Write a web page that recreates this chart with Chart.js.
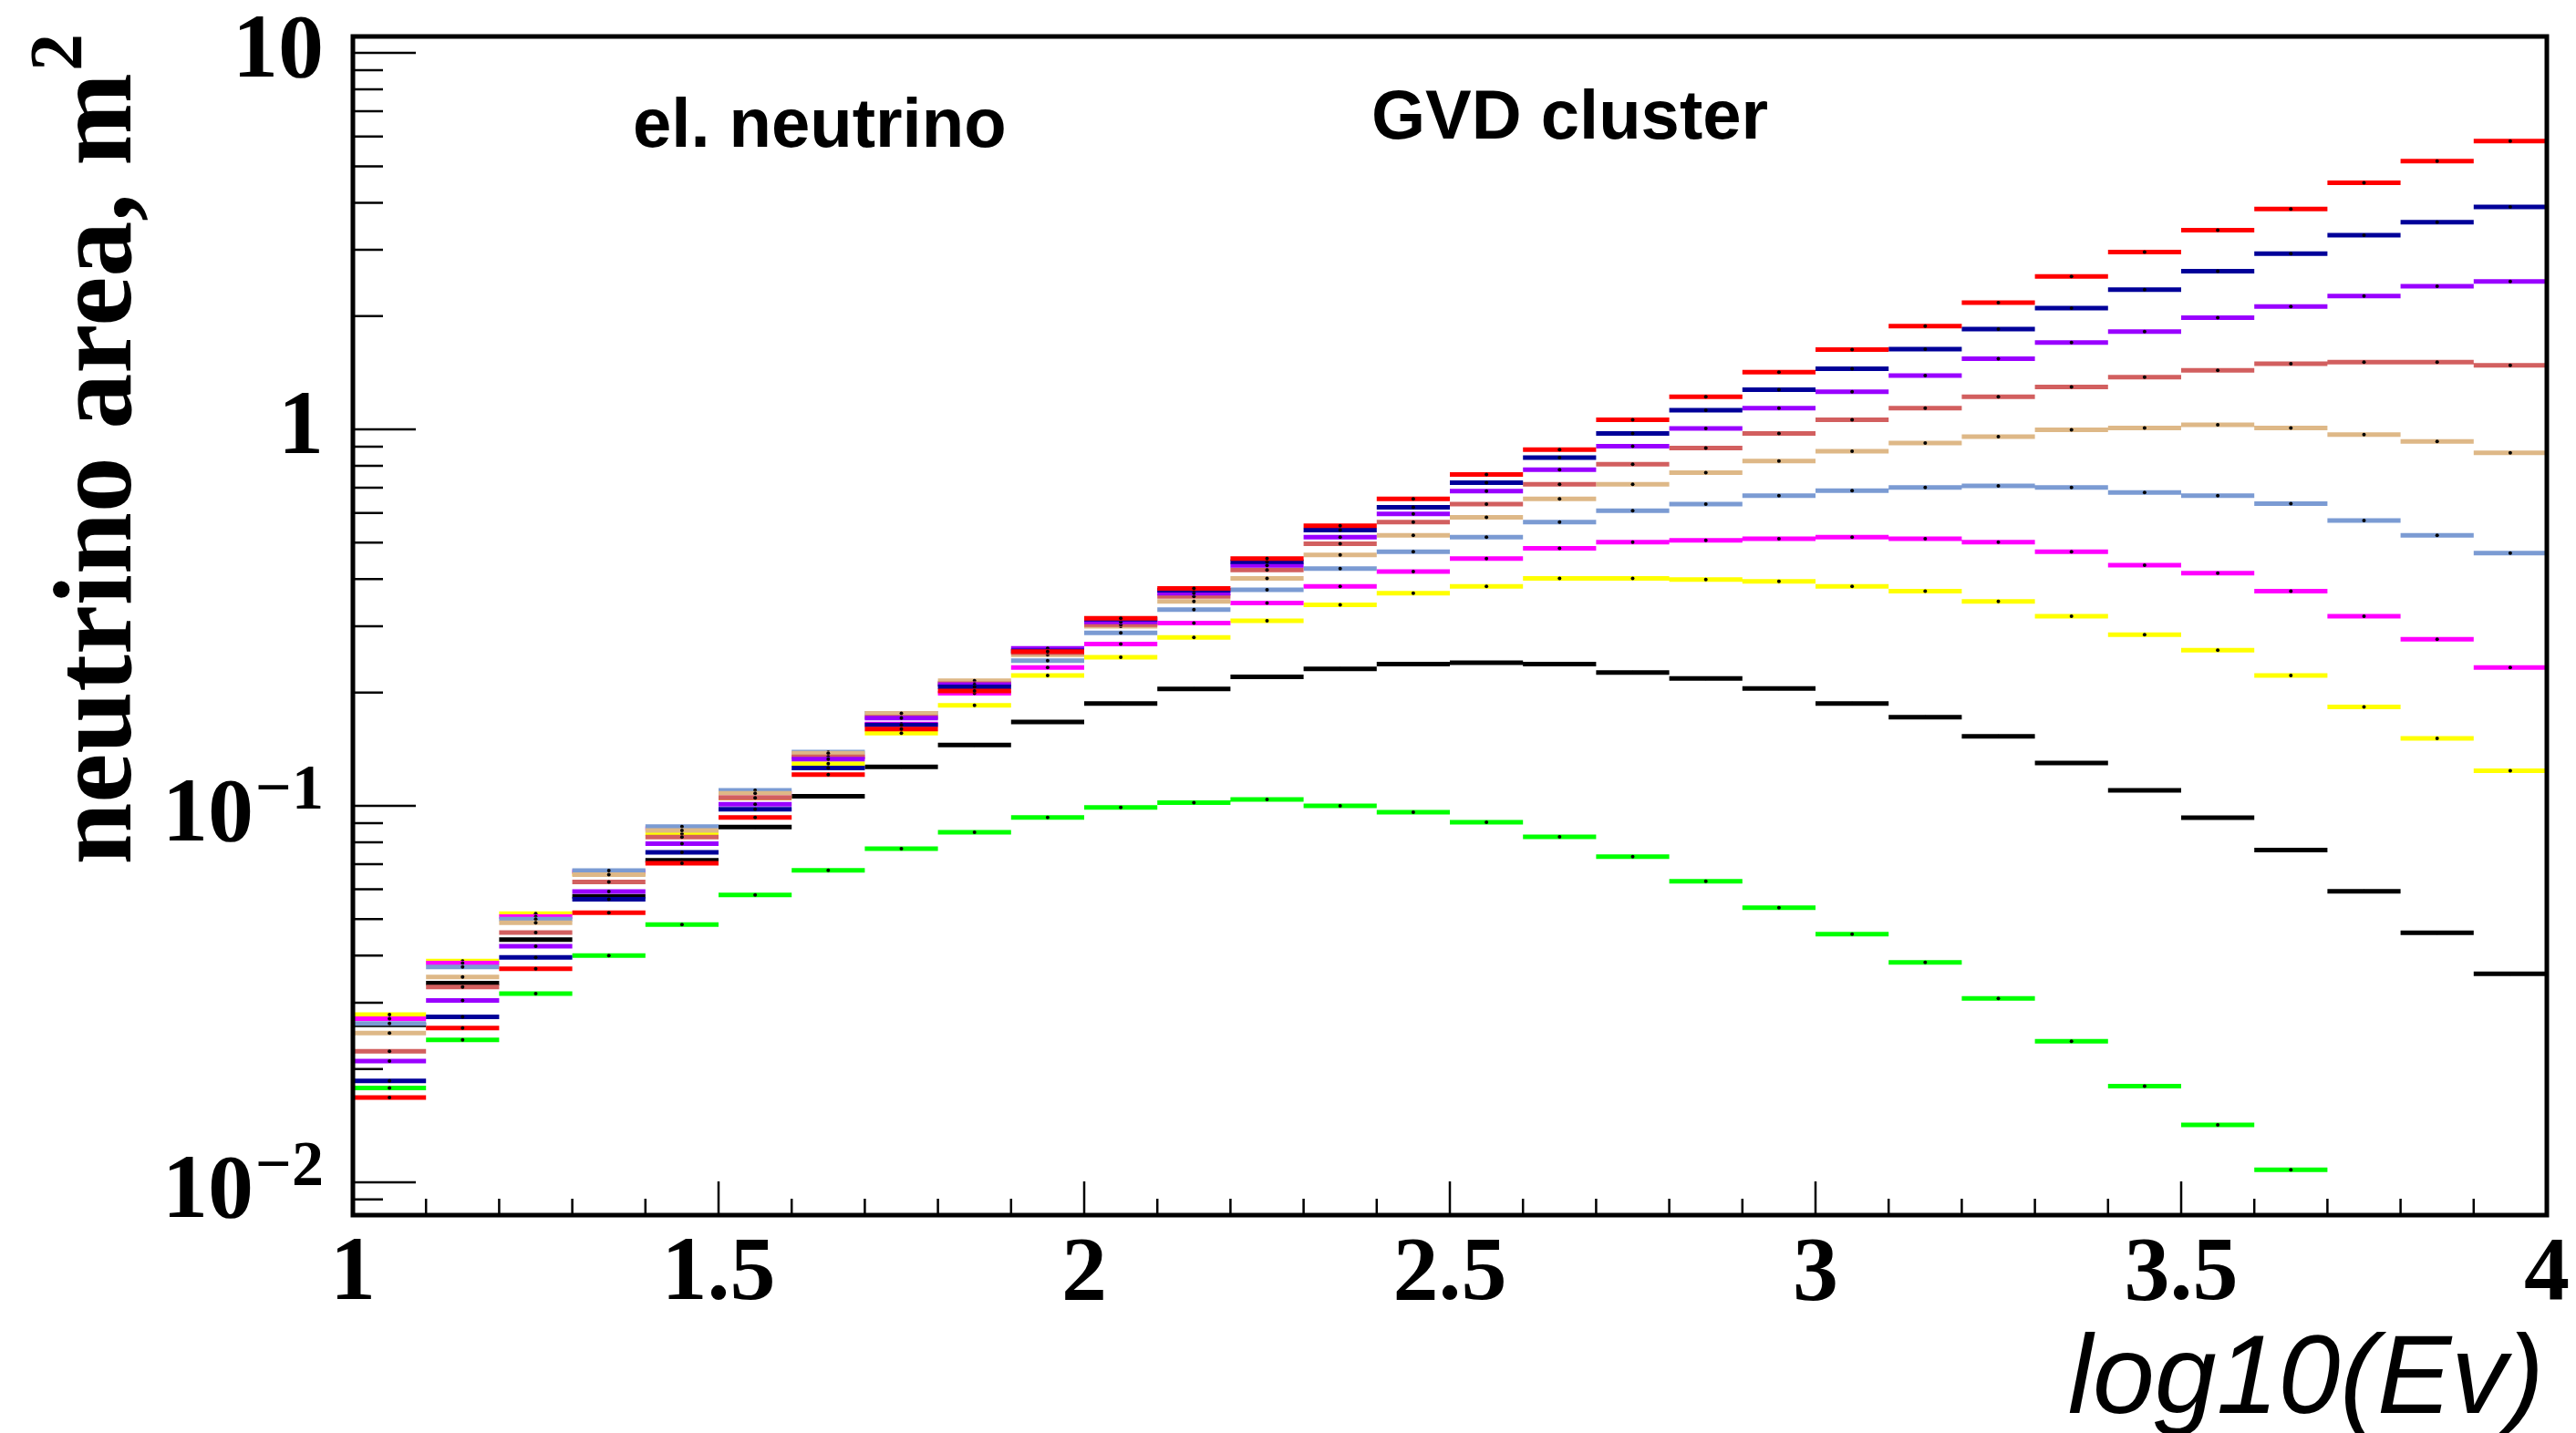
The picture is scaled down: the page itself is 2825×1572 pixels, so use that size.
<!DOCTYPE html>
<html>
<head>
<meta charset="utf-8">
<script src="https://cdn.jsdelivr.net/npm/chart.js@4.4.0/dist/chart.umd.min.js"></script>
<style>
  html, body { margin: 0; padding: 0; background: #fff; }
  canvas { display: block; }
</style>
</head>
<body>
<canvas id="area-chart" width="2825" height="1572"></canvas>
<script>
// log10(Ev) bin edges, 30 bins
const bin_edges = [1.0, 1.1, 1.2, 1.3, 1.4, 1.5, 1.6, 1.7, 1.8, 1.9, 2.0,
  2.1, 2.2, 2.3, 2.4, 2.5, 2.6, 2.7, 2.8, 2.9, 3.0,
  3.1, 3.2, 3.3, 3.4, 3.5, 3.6, 3.7, 3.8, 3.9, 4.0];

const x_tick_labels = ["1", "1.5", "2", "2.5", "3", "3.5", "4"];
const y_tick_values = [10, 1, 0.1, 0.01];
const y_tick_base = ["10", "1", "10", "10"];
const y_tick_exp = ["", "", "\u22121", "\u22122"];

// neutrino area, m^2 per bin
const area_red = [0.0168, 0.0257, 0.0369, 0.052, 0.0704, 0.0932, 0.121, 0.160, 0.202, 0.257,
  0.315, 0.378, 0.454, 0.555, 0.654, 0.759, 0.884, 1.06, 1.22, 1.42,
  1.63, 1.88, 2.17, 2.55, 2.96, 3.38, 3.85, 4.52, 5.16, 5.83];
const area_navy = [0.0186, 0.0275, 0.0396, 0.0565, 0.0752, 0.098, 0.126, 0.164, 0.207, 0.258,
  0.313, 0.374, 0.445, 0.540, 0.621, 0.722, 0.841, 0.976, 1.125, 1.274,
  1.45, 1.634, 1.846, 2.10, 2.35, 2.63, 2.93, 3.28, 3.55, 3.90];
const area_violet = [0.021, 0.0304, 0.0424, 0.0592, 0.0793, 0.101, 0.133, 0.171, 0.210, 0.262,
  0.308, 0.367, 0.435, 0.517, 0.596, 0.686, 0.782, 0.902, 1.006, 1.139,
  1.258, 1.39, 1.54, 1.70, 1.82, 1.98, 2.12, 2.26, 2.40, 2.47];
const area_indianred = [0.0223, 0.033, 0.0461, 0.0628, 0.0826, 0.105, 0.135, 0.172, 0.211, 0.255,
  0.303, 0.360, 0.423, 0.497, 0.567, 0.633, 0.715, 0.808, 0.892, 0.976,
  1.06, 1.139, 1.221, 1.297, 1.376, 1.436, 1.494, 1.509, 1.509, 1.479];
const area_tan = [0.0249, 0.0351, 0.0489, 0.0656, 0.086, 0.108, 0.138, 0.176, 0.215, 0.252,
  0.300, 0.349, 0.402, 0.464, 0.523, 0.584, 0.654, 0.715, 0.767, 0.824,
  0.875, 0.92, 0.957, 0.998, 1.008, 1.028, 1.008, 0.969, 0.929, 0.866];
const area_cornflower = [0.0264, 0.0373, 0.050, 0.0673, 0.0881, 0.110, 0.139, 0.176, 0.212, 0.243,
  0.288, 0.332, 0.375, 0.427, 0.473, 0.517, 0.567, 0.608, 0.633, 0.667,
  0.687, 0.701, 0.708, 0.701, 0.680, 0.667, 0.635, 0.573, 0.523, 0.469];
const area_magenta = [0.0272, 0.0382, 0.0508, 0.0668, 0.087, 0.108, 0.135, 0.165, 0.199, 0.233,
  0.269, 0.306, 0.346, 0.383, 0.419, 0.454, 0.483, 0.502, 0.507, 0.512,
  0.517, 0.512, 0.502, 0.473, 0.436, 0.415, 0.372, 0.319, 0.277, 0.233];
const area_yellow = [0.0279, 0.0387, 0.0517, 0.066, 0.0842, 0.105, 0.1295, 0.156, 0.185, 0.222,
  0.248, 0.280, 0.310, 0.342, 0.367, 0.383, 0.402, 0.402, 0.399, 0.395,
  0.383, 0.372, 0.349, 0.319, 0.285, 0.259, 0.222, 0.183, 0.151, 0.124];
const area_black = [0.0262, 0.0338, 0.0441, 0.0575, 0.0717, 0.0878, 0.106, 0.127, 0.145, 0.167,
  0.187, 0.2045, 0.220, 0.231, 0.238, 0.240, 0.238, 0.226, 0.218, 0.205,
  0.187, 0.172, 0.153, 0.130, 0.110, 0.093, 0.0763, 0.0593, 0.046, 0.0358];
const area_green = [0.0178, 0.0239, 0.0317, 0.040, 0.0484, 0.058, 0.0674, 0.0769, 0.0851, 0.0932,
  0.099, 0.102, 0.104, 0.100, 0.0962, 0.0904, 0.0827, 0.0733, 0.063, 0.0536,
  0.0456, 0.0384, 0.0308, 0.0237, 0.018, 0.0142, 0.0108, null, null, null];

const all_series = [area_red, area_navy, area_violet, area_indianred, area_tan,
  area_cornflower, area_magenta, area_yellow, area_black, area_green];
const series_colors = ['#ff0000', '#000099', '#9900ff', '#d25f5f', '#deb887',
  '#7b9bd3', '#ff00ff', '#ffff00', '#000000', '#00ff00'];

// one flat step per bin, broken between bins (root "hist" look)
function histSteps(values) {
  let pts = [];
  values.forEach((v, i) => {
    if (v === null) return;
    let lo = bin_edges[i], hi = bin_edges[i + 1];
    pts.push({x: lo, y: v}, {x: (lo + hi) / 2, y: v}, {x: hi, y: v}, {x: hi, y: null});
  });
  return pts;
}

const rootAxes = {
  id: 'rootAxes',
  afterDatasetsDraw(chart) {
    const {ctx, chartArea: a, scales: {x, y}} = chart;
    ctx.save();
    ctx.strokeStyle = '#000';
    ctx.lineWidth = 2.5;
    ctx.beginPath();
    for (let e = -3; e <= 1; e++) {
      for (let m = 1; m <= 9; m++) {
        let v = m * Math.pow(10, e);
        if (v < y.min || v > y.max) continue;
        let py = y.getPixelForValue(v);
        ctx.moveTo(a.left, py);
        ctx.lineTo(a.left + (m === 1 ? 69 : 33), py);
      }
    }
    for (let k = 0; k <= 30; k++) {
      let px = x.getPixelForValue(1 + k * 0.1);
      ctx.moveTo(px, a.bottom);
      ctx.lineTo(px, a.bottom - (k % 5 === 0 ? 37 : 18));
    }
    ctx.stroke();

    ctx.lineWidth = 5;
    ctx.strokeRect(a.left, a.top, a.right - a.left, a.bottom - a.top);

    // x tick labels
    ctx.fillStyle = '#000';
    ctx.font = 'bold 100px "Liberation Serif"';
    ctx.textAlign = 'center';
    ctx.textBaseline = 'alphabetic';
    x_tick_labels.forEach(t => {
      ctx.fillText(t, x.getPixelForValue(parseFloat(t)), 1425);
    });

    // y tick labels, with exponents
    const right = 355;
    y_tick_values.forEach((v, i) => {
      let py = y.getPixelForValue(v);
      if (y_tick_exp[i] === "") {
        ctx.font = 'bold 100px "Liberation Serif"';
        ctx.textAlign = 'right';
        ctx.textBaseline = 'middle';
        ctx.fillText(y_tick_base[i], right, py);
      } else {
        ctx.font = 'bold 70px "Liberation Serif"';
        let w = ctx.measureText(y_tick_exp[i]).width;
        ctx.textAlign = 'right';
        ctx.textBaseline = 'alphabetic';
        ctx.fillText(y_tick_exp[i], right, py + 3);
        ctx.font = 'bold 100px "Liberation Serif"';
        ctx.textBaseline = 'middle';
        ctx.fillText(y_tick_base[i], right - w - 2, py + 12);
      }
    });

    // axis titles
    ctx.font = 'italic 122px "Liberation Sans"';
    ctx.textAlign = 'right';
    ctx.textBaseline = 'alphabetic';
    ctx.fillText('log10(Ev)', 2790, 1550);

    ctx.save();
    ctx.translate(143, 0);
    ctx.rotate(-Math.PI / 2);
    ctx.font = 'bold 122px "Liberation Serif"';
    ctx.textAlign = 'right';
    ctx.fillText('neutrino area, m', -80, 0);
    ctx.font = 'bold 82px "Liberation Serif"';
    ctx.textAlign = 'left';
    ctx.fillText('2', -78, -54);
    ctx.restore();

    // labels inside the frame
    ctx.font = 'bold 76px "Liberation Sans"';
    ctx.textAlign = 'left';
    ctx.fillText('el. neutrino', 694, 161);
    ctx.fillText('GVD cluster', 1504, 152);
    ctx.restore();
  }
};

const area_ctx = document.getElementById("area-chart").getContext("2d");

let area_chart = new Chart(area_ctx, {
  type: "line",
  data: {
    datasets: all_series.map((vals, i) => ({
      data: histSteps(vals),
      borderColor: series_colors[i],
      backgroundColor: series_colors[i],
      borderWidth: 5,
      borderCapStyle: 'butt',
      fill: false,
      spanGaps: false,
      tension: 0,
      pointRadius: ctx => (ctx.index % 4 === 1 ? 2 : 0),
      pointBackgroundColor: '#000',
      pointBorderWidth: 0,
    })),
  },
  options: {
    responsive: false,
    animation: false,
    events: [],
    layout: {
      padding: {left: 387, right: 32, top: 40, bottom: 239}
    },
    scales: {
      x: {type: 'linear', min: 1, max: 4, display: false},
      y: {type: 'logarithmic', min: 0.00818, max: 11.06, display: false}
    },
    plugins: {
      legend: {display: false},
      tooltip: {enabled: false}
    }
  },
  plugins: [rootAxes]
});
</script>
</body>
</html>
